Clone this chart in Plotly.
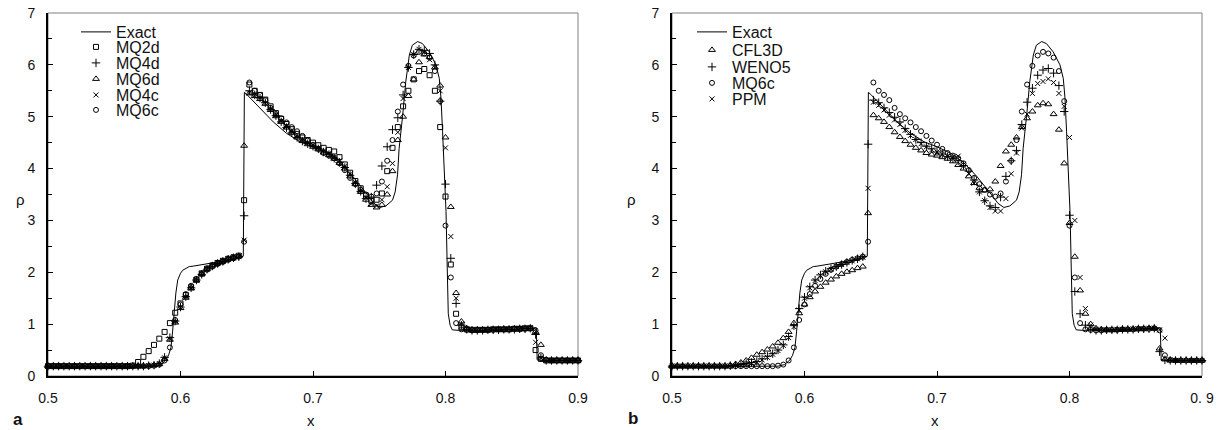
import plotly.graph_objects as go

# ---------------- data ----------------
# sample locations of the numerical solutions
X_GRID = [round(0.5 + 0.004 * i, 3) for i in range(101)]

EXACT_X = [0.500, 0.580, 0.585, 0.589, 0.591, 0.5928, 0.594, 0.5953, 0.5965, 0.5979,
           0.600, 0.6017, 0.604, 0.6066, 0.610, 0.6142, 0.620, 0.630, 0.640, 0.6474,
           0.6482, 0.650, 0.655, 0.660, 0.670, 0.680, 0.690, 0.700, 0.710, 0.720,
           0.730, 0.7413, 0.746, 0.7505, 0.755, 0.760, 0.762, 0.7638, 0.765, 0.7677,
           0.770, 0.7727, 0.775, 0.779, 0.7826, 0.7877, 0.7928, 0.7953, 0.7966, 0.7978,
           0.799, 0.8004, 0.8013, 0.8021, 0.8035, 0.8051, 0.810, 0.820, 0.830, 0.840,
           0.850, 0.860, 0.866, 0.8685, 0.8692, 0.872, 0.880, 0.900]
EXACT_Y = [0.18, 0.19, 0.22, 0.31, 0.40, 0.55, 0.85, 1.30, 1.60, 1.85,
           1.98, 2.04, 2.08, 2.11, 2.12, 2.14, 2.16, 2.20, 2.25, 2.31,
           5.47, 5.43, 5.30, 5.15, 4.90, 4.68, 4.52, 4.42, 4.30, 4.12,
           3.85, 3.49, 3.33, 3.25, 3.28, 3.39, 3.55, 3.88, 4.39, 5.03,
           5.67, 6.19, 6.38, 6.45, 6.41, 6.25, 6.00, 5.74, 5.36, 4.71,
           3.88, 3.17, 2.10, 1.20, 0.98, 0.89, 0.88, 0.88, 0.89, 0.89,
           0.90, 0.91, 0.93, 0.93, 0.31, 0.30, 0.30, 0.30]

MQ2D = [0.19, 0.19, 0.19, 0.19, 0.19, 0.19, 0.19, 0.19, 0.19, 0.19,
        0.19, 0.19, 0.19, 0.19, 0.19, 0.19, 0.20, 0.27, 0.37, 0.48,
        0.60, 0.72, 0.85, 1.02, 1.22, 1.40, 1.56, 1.71, 1.86, 1.98,
        2.07, 2.13, 2.18, 2.22, 2.26, 2.29, 2.32, 3.39, 5.62, 5.50,
        5.42, 5.33, 5.20, 5.07, 4.96, 4.86, 4.76, 4.67, 4.60, 4.55,
        4.50, 4.45, 4.40, 4.36, 4.33, 4.22, 4.08, 3.92, 3.76, 3.62,
        3.48, 3.38, 3.40, 3.52, 3.95, 4.40, 4.80, 5.20, 5.50, 5.72,
        5.88, 5.92, 5.80, 5.50, 4.80, 3.46, 2.15, 1.20, 0.95, 0.90,
        0.89, 0.89, 0.89, 0.89, 0.90, 0.90, 0.90, 0.90, 0.91, 0.91,
        0.92, 0.92, 0.50, 0.33, 0.30, 0.30, 0.30, 0.30, 0.30, 0.30,
        0.30]
MQ4D = [0.19, 0.19, 0.19, 0.19, 0.19, 0.19, 0.19, 0.19, 0.19, 0.19,
        0.19, 0.19, 0.19, 0.19, 0.19, 0.19, 0.19, 0.19, 0.19, 0.20,
        0.21, 0.24, 0.36, 0.74, 1.06, 1.33, 1.53, 1.70, 1.85, 1.96,
        2.06, 2.12, 2.17, 2.21, 2.25, 2.28, 2.30, 3.09, 5.50, 5.42,
        5.36, 5.27, 5.14, 5.02, 4.90, 4.79, 4.69, 4.60, 4.53, 4.48,
        4.43, 4.38, 4.32, 4.27, 4.20, 4.12, 4.02, 3.87, 3.71, 3.56,
        3.42, 3.45, 3.68, 4.05, 4.42, 4.75, 4.98, 5.42, 5.95, 6.20,
        6.30, 6.28, 6.22, 6.00, 5.30, 3.70, 2.27, 1.40, 0.98, 0.90,
        0.88, 0.88, 0.88, 0.89, 0.89, 0.89, 0.90, 0.90, 0.90, 0.91,
        0.91, 0.92, 0.80, 0.35, 0.30, 0.30, 0.30, 0.30, 0.30, 0.30,
        0.30]
MQ6D = [0.19, 0.19, 0.19, 0.19, 0.19, 0.19, 0.19, 0.19, 0.19, 0.19,
        0.19, 0.19, 0.19, 0.19, 0.19, 0.19, 0.19, 0.19, 0.19, 0.20,
        0.21, 0.23, 0.33, 0.70, 1.03, 1.31, 1.51, 1.69, 1.84, 1.96,
        2.06, 2.13, 2.18, 2.22, 2.26, 2.29, 2.31, 4.44, 5.45, 5.40,
        5.34, 5.25, 5.13, 5.01, 4.90, 4.79, 4.69, 4.60, 4.53, 4.47,
        4.42, 4.37, 4.31, 4.26, 4.19, 4.11, 4.00, 3.85, 3.70, 3.55,
        3.40, 3.30, 3.25, 3.30, 3.50, 3.95, 4.55, 5.00, 5.40, 5.72,
        6.05, 6.20, 6.15, 5.95, 5.60, 4.60, 3.26, 1.60, 1.05, 0.92,
        0.89, 0.89, 0.89, 0.89, 0.90, 0.90, 0.90, 0.90, 0.91, 0.91,
        0.91, 0.92, 0.85, 0.60, 0.31, 0.30, 0.30, 0.30, 0.30, 0.30,
        0.30]
MQ4C = [0.19, 0.19, 0.19, 0.19, 0.19, 0.19, 0.19, 0.19, 0.19, 0.19,
        0.19, 0.19, 0.19, 0.19, 0.19, 0.19, 0.19, 0.19, 0.19, 0.20,
        0.21, 0.24, 0.35, 0.72, 1.05, 1.32, 1.52, 1.70, 1.85, 1.97,
        2.07, 2.13, 2.18, 2.22, 2.26, 2.28, 2.31, 2.62, 5.46, 5.41,
        5.35, 5.26, 5.15, 5.03, 4.92, 4.81, 4.71, 4.62, 4.55, 4.50,
        4.45, 4.40, 4.34, 4.29, 4.22, 4.15, 4.04, 3.89, 3.73, 3.58,
        3.44, 3.32, 3.28, 3.40, 3.65, 4.10, 4.70, 5.35, 5.95, 6.20,
        6.30, 6.25, 6.10, 5.95, 5.50, 4.40, 2.69, 1.50, 1.00, 0.91,
        0.89, 0.89, 0.89, 0.90, 0.90, 0.90, 0.90, 0.91, 0.91, 0.92,
        0.92, 0.93, 0.65, 0.35, 0.30, 0.30, 0.30, 0.30, 0.30, 0.30,
        0.30]
MQ6C = [0.19, 0.19, 0.19, 0.19, 0.19, 0.19, 0.19, 0.19, 0.19, 0.19,
        0.19, 0.19, 0.19, 0.19, 0.19, 0.19, 0.19, 0.19, 0.19, 0.19,
        0.20, 0.22, 0.30, 0.55, 1.08, 1.38, 1.58, 1.74, 1.87, 1.97,
        2.05, 2.11, 2.16, 2.20, 2.24, 2.27, 2.30, 2.59, 5.66, 5.50,
        5.42, 5.32, 5.17, 5.05, 4.97, 4.89, 4.80, 4.72, 4.63, 4.54,
        4.46, 4.38, 4.30, 4.25, 4.20, 4.10, 3.97, 3.82, 3.70, 3.59,
        3.50, 3.46, 3.52, 3.75, 4.15, 4.55, 5.10, 5.62, 5.98, 6.18,
        6.25, 6.22, 6.14, 5.88, 5.30, 2.90, 1.90, 1.02, 0.90, 0.89,
        0.88, 0.88, 0.89, 0.89, 0.89, 0.90, 0.90, 0.90, 0.91, 0.91,
        0.91, 0.92, 0.88, 0.40, 0.31, 0.30, 0.30, 0.30, 0.30, 0.30,
        0.30]
CFL3D = [0.19, 0.19, 0.19, 0.19, 0.19, 0.19, 0.19, 0.19, 0.19, 0.19,
         0.19, 0.21, 0.23, 0.26, 0.30, 0.35, 0.41, 0.46, 0.51, 0.57,
         0.64, 0.73, 0.85, 1.02, 1.21, 1.38, 1.52, 1.63, 1.72, 1.80,
         1.86, 1.92, 1.97, 2.01, 2.04, 2.08, 2.11, 3.14, 5.03, 4.97,
         4.90, 4.80, 4.70, 4.61, 4.53, 4.46, 4.40, 4.35, 4.30, 4.27,
         4.25, 4.22, 4.19, 4.14, 4.07, 4.00, 3.85, 3.72, 3.63, 3.58,
         3.60, 3.75, 4.05, 4.33, 4.46, 4.60, 4.80, 4.97, 5.10, 5.22,
         5.26, 5.24, 5.05, 4.75, 4.10, 2.95, 2.30, 1.65, 1.20, 1.00,
         0.92, 0.90, 0.89, 0.89, 0.89, 0.90, 0.90, 0.90, 0.91, 0.91,
         0.92, 0.92, 0.53, 0.32, 0.30, 0.30, 0.30, 0.30, 0.30, 0.30,
         0.30]
WENO5 = [0.19, 0.19, 0.19, 0.19, 0.19, 0.19, 0.19, 0.19, 0.19, 0.19,
         0.19, 0.20, 0.21, 0.22, 0.24, 0.26, 0.28, 0.33, 0.38, 0.43,
         0.50, 0.60, 0.76, 0.97, 1.30, 1.52, 1.72, 1.85, 1.95, 2.02,
         2.07, 2.11, 2.15, 2.19, 2.23, 2.26, 2.30, 4.47, 5.32, 5.27,
         5.17, 5.08, 4.99, 4.90, 4.77, 4.66, 4.56, 4.50, 4.43, 4.38,
         4.32, 4.28, 4.23, 4.19, 4.15, 4.06, 3.95, 3.78, 3.55, 3.38,
         3.28, 3.25, 3.45, 3.85, 4.15, 4.35, 4.85, 5.28, 5.55, 5.80,
         5.90, 5.93, 5.84, 5.60, 5.10, 3.10, 1.63, 1.20, 0.98, 0.90,
         0.88, 0.88, 0.89, 0.89, 0.89, 0.90, 0.90, 0.90, 0.91, 0.91,
         0.91, 0.92, 0.47, 0.31, 0.30, 0.30, 0.30, 0.30, 0.30, 0.30,
         0.30]
PPM = [0.19, 0.19, 0.19, 0.19, 0.19, 0.19, 0.19, 0.19, 0.19, 0.19,
       0.19, 0.19, 0.20, 0.21, 0.22, 0.24, 0.27, 0.31, 0.36, 0.42,
       0.49, 0.59, 0.74, 0.95, 1.27, 1.50, 1.70, 1.84, 1.94, 2.01,
       2.06, 2.11, 2.15, 2.19, 2.22, 2.26, 2.29, 3.62, 5.28, 5.22,
       5.13, 5.03, 4.94, 4.85, 4.74, 4.64, 4.56, 4.48, 4.42, 4.36,
       4.32, 4.28, 4.24, 4.22, 4.24, 4.08, 3.90, 3.72, 3.55, 3.38,
       3.25, 3.18, 3.18, 3.42, 3.90, 4.30, 4.78, 5.05, 5.45, 5.64,
       5.68, 5.73, 5.66, 5.45, 5.20, 4.60, 3.00, 1.90, 1.30, 0.98,
       0.90, 0.89, 0.89, 0.89, 0.90, 0.90, 0.90, 0.91, 0.91, 0.91,
       0.92, 0.92, 0.89, 0.73, 0.31, 0.30, 0.30, 0.30, 0.30, 0.30,
       0.30]

for arr in (MQ2D, MQ4D, MQ6D, MQ4C, MQ6C, CFL3D, WENO5, PPM):
    assert len(arr) == len(X_GRID), len(arr)

X_TICKS = [0.5, 0.6, 0.7, 0.8, 0.9]
X_TICKTEXT_A = ["0.5", "0.6", "0.7", "0.8", "0.9"]
X_TICKTEXT_B = ["0.5", "0.6", "0.7", "0.8", "0. 9"]
Y_TICKS = [0, 1, 2, 3, 4, 5, 6, 7]

PANEL_A = [("MQ2d", MQ2D), ("MQ4d", MQ4D), ("MQ6d", MQ6D), ("MQ4c", MQ4C), ("MQ6c", MQ6C)]
PANEL_B = [("CFL3D", CFL3D), ("WENO5", WENO5), ("MQ6c", MQ6C), ("PPM", PPM)]

# ---------------- styling ----------------
FONT = "Liberation Sans, Arial, sans-serif"
W, H = 1226, 430


def px2x(p):
    return p / W


def px2y(p):
    return 1 - p / H


SYMBOLS = {
    "MQ2d": ("square-open", 5),
    "MQ4d": ("cross-thin-open", 6),
    "MQ6d": ("triangle-up-open", 6),
    "MQ4c": ("x-thin-open", 5),
    "MQ6c": ("circle-open", 5),
    "CFL3D": ("triangle-up-open", 6),
    "WENO5": ("cross-thin-open", 6),
    "PPM": ("x-thin-open", 5),
}

fig = go.Figure()
legend_layout = {}
leg_font = dict(family=FONT, size=16, color="#111")

panels = [
    ("x", "y", PANEL_A, 76, [32, 47, 63, 79, 95, 110], 1),
    ("x2", "y2", PANEL_B, 692, [32, 50, 67, 83, 99], 7),
]

for xa, ya, series, lx, rows, lstart in panels:
    names = ["legend" if lstart == 1 else f"legend{lstart}"] + \
            [f"legend{lstart + j + 1}" for j in range(len(series))]
    fig.add_trace(go.Scatter(x=EXACT_X, y=EXACT_Y, mode="lines", name="Exact",
                             line=dict(color="black", width=1), xaxis=xa, yaxis=ya,
                             legend=names[0], cliponaxis=False, showlegend=True))
    for j, (name, vals) in enumerate(series):
        sym, sz = SYMBOLS[name]
        fig.add_trace(go.Scatter(x=X_GRID, y=vals, mode="markers", name=name,
                                 marker=dict(symbol=sym, size=sz, color="black",
                                             line=dict(color="black", width=1)),
                                 xaxis=xa, yaxis=ya, legend=names[j + 1],
                                 cliponaxis=False, showlegend=True))
    for n, row in zip(names, rows):
        legend_layout[n] = dict(x=px2x(lx), y=px2y(row), xanchor="left",
                                yanchor="middle", bgcolor="rgba(0,0,0,0)", borderwidth=0,
                                itemwidth=30, font=leg_font, visible=True)

axis_common = dict(showline=True, linecolor="black", linewidth=2, ticks="inside",
                   tickcolor="black", ticklen=5, tickwidth=1, showgrid=False, zeroline=False,
                   automargin=False, ticklabeloverflow="allow",
                   tickfont=dict(family=FONT, size=14, color="#111"), ticklabelstandoff=8)

Y0, Y1 = px2y(376), px2y(13)
fig.update_layout(
    width=W, height=H, margin=dict(l=0, r=0, t=0, b=0, autoexpand=False),
    paper_bgcolor="white", plot_bgcolor="white", showlegend=True,
    xaxis=dict(domain=[px2x(48), px2x(578)], range=[0.5, 0.9], tickvals=X_TICKS,
               ticktext=X_TICKTEXT_A, anchor="y", **axis_common),
    yaxis=dict(domain=[Y0, Y1], range=[0, 7], tickvals=Y_TICKS, anchor="x",
               minor=dict(ticks="inside", ticklen=4, tickcolor="black", dtick=0.5, showgrid=False),
               **axis_common),
    xaxis2=dict(domain=[px2x(672), px2x(1202)], range=[0.5, 0.9], tickvals=X_TICKS,
                ticktext=X_TICKTEXT_B, anchor="y2", **axis_common),
    yaxis2=dict(domain=[Y0, Y1], range=[0, 7], tickvals=Y_TICKS, anchor="x2",
                minor=dict(ticks="inside", ticklen=4, tickcolor="black", dtick=0.5, showgrid=False),
                **axis_common),
    **legend_layout,
)

for xa, ya in (("x", "y"), ("x2", "y2")):
    fig.add_shape(type="rect", xref=f"{xa} domain", yref=f"{ya} domain", x0=0, x1=1, y0=0, y1=1,
                  line=dict(color="#808080", width=1), layer="below")

for txt, px, py, bold in [("ρ", 20, 199, False), ("ρ", 631, 199, False),
                          ("x", 311, 420, False), ("x", 935, 420, False),
                          ("a", 18, 419, True), ("b", 633, 418, True)]:
    fig.add_annotation(text=f"<b>{txt}</b>" if bold else txt, x=px2x(px), y=px2y(py),
                       xref="paper", yref="paper", showarrow=False, xanchor="center",
                       yanchor="middle", font=dict(family=FONT, size=17 if bold else 15, color="#111"))

# remove the browser's default 8px page margin so the figure fills the window exactly
fig.write_html("out.html", config={"displayModeBar": False},
               post_script="document.body.style.margin='0px';")
